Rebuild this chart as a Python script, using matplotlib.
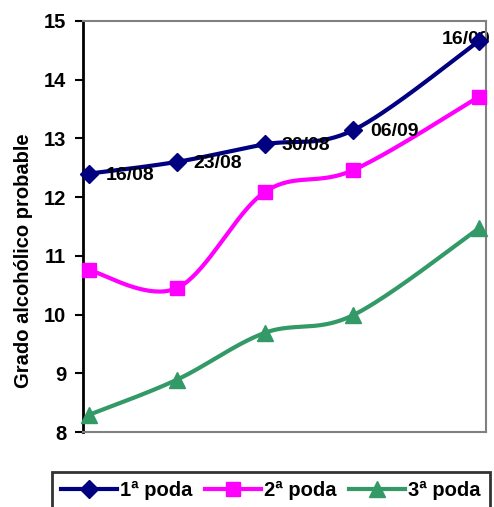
import numpy as np
import matplotlib.pyplot as plt

plt.rcParams['font.family'] = ['Liberation Sans', 'DejaVu Sans']
plt.rcParams['font.weight'] = 'bold'

# sampling dates (days after 16/08)
dias = [0, 7, 14, 21, 31]
fechas = ['16/08', '23/08', '30/08', '06/09', '16/09']

poda1 = [12.40, 12.60, 12.90, 13.14, 14.66]
poda2 = [10.76, 10.45, 12.09, 12.46, 13.71]
poda3 = [8.29, 8.89, 9.69, 9.99, 11.47]

series = [
    ('1ª poda', poda1, '#000080', 'D', 9),
    ('2ª poda', poda2, '#FF00FF', 's', 10),
    ('3ª poda', poda3, '#339966', '^', 11),
]


def suavizar(x, y, n=40):
    # Catmull-Rom curve through the points, like a smoothed line in a spreadsheet
    p = np.column_stack([x, y]).astype(float)
    p = np.vstack([p[0], p, p[-1]])
    out = []
    for i in range(1, len(p) - 2):
        p0, p1, p2, p3 = p[i - 1], p[i], p[i + 1], p[i + 2]
        c1 = p1 + (p2 - p0) / 6
        c2 = p2 - (p3 - p1) / 6
        t = np.linspace(0, 1, n)[:, None]
        seg = ((1 - t) ** 3) * p1 + 3 * ((1 - t) ** 2) * t * c1 \
            + 3 * (1 - t) * t ** 2 * c2 + t ** 3 * p2
        out.append(seg if i == 1 else seg[1:])
    out = np.vstack(out)
    return out[:, 0], out[:, 1]


fig = plt.figure(figsize=(4.94, 5.07), dpi=100)
ax = fig.add_axes([83 / 494, 1 - 432 / 507, (486 - 83) / 494, (432 - 21) / 507])

handles = []
for nombre, vals, color, mk, ms in series:
    xs, ys = suavizar(dias, vals)
    ax.plot(xs, ys, color=color, lw=3, solid_capstyle='round', zorder=2)
    ax.plot(dias, vals, ls='none', marker=mk, ms=ms, color=color, zorder=3,
            clip_on=False)
    h, = ax.plot([], [], color=color, lw=3, marker=mk, ms=ms)
    handles.append(h)

for d, v, f in zip(dias[:-1], poda1[:-1], fechas[:-1]):
    ax.annotate(f, (d, v), xytext=(12, -1), textcoords='offset points',
                ha='left', va='center', fontsize=14, fontweight='bold')
ax.annotate(fechas[-1], (dias[-1], poda1[-1]), xytext=(8, 1),
            textcoords='offset points', ha='right', va='center',
            fontsize=14, fontweight='bold', zorder=1)

ax.set_xlim(-0.45, 31.55)
ax.set_ylim(8, 15)
ax.set_yticks(range(8, 16))
ax.set_xticks([])
ax.tick_params(axis='y', direction='out', length=6, width=1.5,
               labelsize=14.5, pad=6)
for lab in ax.get_yticklabels():
    lab.set_fontweight('bold')
ax.set_ylabel('Grado alcohólico probable', fontsize=14.5, fontweight='bold')
ax.yaxis.set_label_coords(-0.123, 0.418)

ax.spines['left'].set_color('black')
ax.spines['left'].set_linewidth(2)
for s in ['top', 'right', 'bottom']:
    ax.spines[s].set_color('#808080')
    ax.spines[s].set_linewidth(1.5)

leg = fig.legend(handles, [s[0] for s in series], loc='upper left',
                 bbox_to_anchor=(52 / 494, 1 - 472 / 507), ncol=3,
                 fontsize=14.5, frameon=True, fancybox=False,
                 handlelength=2.8, handletextpad=0.15, columnspacing=0.6,
                 borderpad=0.45, borderaxespad=0)
leg.get_frame().set_edgecolor('black')
leg.get_frame().set_linewidth(2)

fig.savefig('out.png', dpi=100)
